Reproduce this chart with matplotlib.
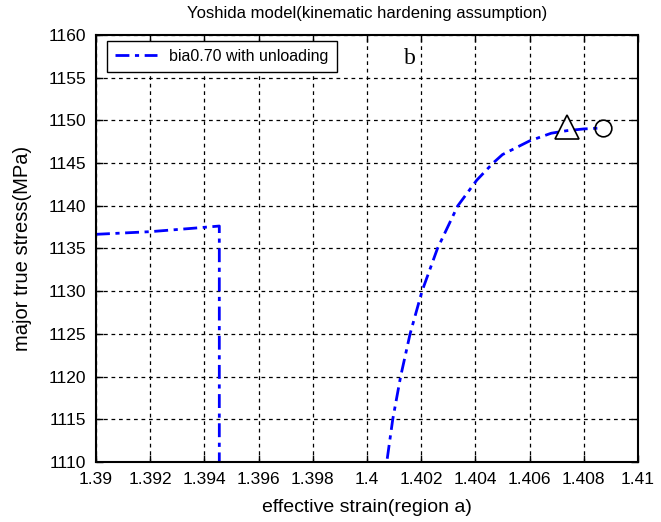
import numpy as np
import matplotlib
matplotlib.use("Agg")
import matplotlib.pyplot as plt

plt.rcParams['font.family'] = ['Liberation Sans', 'DejaVu Sans']

# data
seg1_x = [1.3900, 1.3920, 1.3935, 1.39455, 1.39455]
seg1_y = [1136.66, 1136.97, 1137.35, 1137.63, 1100.0]
seg2_x = [1.40060, 1.40073, 1.40095, 1.40124, 1.40159, 1.40203, 1.40260, 1.40335,
          1.40405, 1.40465, 1.40500, 1.40600, 1.40680, 1.40738, 1.40800, 1.40860]
seg2_y = [1107.0, 1110.0, 1115.0, 1120.0, 1125.0, 1130.0, 1135.0, 1140.0,
          1143.0, 1145.0, 1146.0, 1147.6, 1148.5, 1148.8, 1149.0, 1149.1]
triangle_pt = (1.40738, 1149.25)
circle_pt = (1.40870, 1149.1)
xticks = [1.39, 1.392, 1.394, 1.396, 1.398, 1.4, 1.402, 1.404, 1.406, 1.408, 1.41]
xticklabels = ['1.39', '1.392', '1.394', '1.396', '1.398', '1.4', '1.402', '1.404', '1.406', '1.408', '1.41']
yticks = list(range(1110, 1161, 5))

x = seg1_x + [np.nan] + seg2_x
y = seg1_y + [np.nan] + seg2_y

fig = plt.figure(figsize=(6.61, 5.22), dpi=100)
ax = fig.add_axes([96/661, 1-462/522, (638-96)/661, (462-35)/522])

ax.plot(x, y, color=(0, 0, 1), lw=2, dashes=(5, 2, 1.5, 2), label='bia0.70 with unloading')
ax.plot(*triangle_pt, marker='^', ms=17, mfc='none', mec='black', mew=1.2, ls='none')
ax.plot(*circle_pt, marker='o', ms=12, mfc='none', mec='black', mew=1.2, ls='none')

ax.set_xlim(1.39, 1.41)
ax.set_ylim(1110, 1160)
ax.set_xticks(xticks)
ax.set_xticklabels(xticklabels)
ax.set_yticks(yticks)
ax.tick_params(direction='in', top=True, right=True, labelsize=12.5, length=5, width=1)
ax.tick_params(axis='x', pad=7)
ax.tick_params(axis='y', pad=7)
ax.grid(True, color='black', ls=(0, (3, 3)), lw=0.9)
for s in ax.spines.values():
    s.set_linewidth(1.5)

ax.set_xlabel('effective strain(region a)', fontsize=14, labelpad=9)
ax.set_ylabel('major true stress(MPa)', fontsize=14.5, labelpad=12)
ax.set_title('Yoshida model(kinematic hardening assumption)', fontsize=12, pad=12)

ax.text(1.40159, 1157.3, 'b', fontsize=17, family='Liberation Serif', ha='center', va='center')

leg = ax.legend(loc='upper left', bbox_to_anchor=(0.0203, 0.986), borderaxespad=0,
                fontsize=11.5, fancybox=False, framealpha=1, edgecolor='black',
                borderpad=0.5, handlelength=2.6)
leg.get_frame().set_linewidth(1.0)

fig.savefig('out.png', dpi=100)
